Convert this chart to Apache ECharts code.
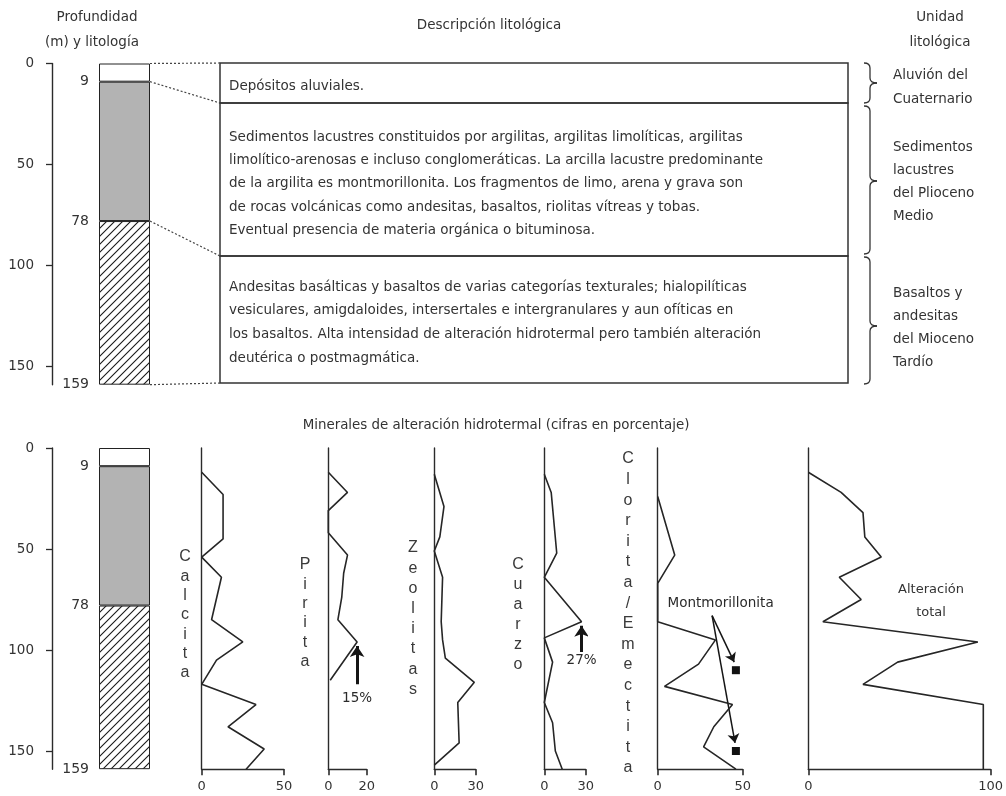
<!DOCTYPE html>
<html lang="es">
<head>
<meta charset="utf-8">
<title>Perfil litológico y minerales de alteración hidrotermal</title>
<script src="https://cdn.jsdelivr.net/npm/echarts@6/dist/echarts.min.js"></script>
<style>
html, body { margin: 0; padding: 0; background: #fff; }
#chart { width: 1006px; height: 796px; }
</style>
</head>
<body>
<div id="chart"></div>
<script>
// ---------- Data ----------
const depthMax = 159;
const depthTicks = [0, 50, 100, 150];
const layerBoundaries = [9, 78, 159];
const layerThickness = [9, 69, 81];

// Mineral profiles: [porcentaje, profundidad (m)]
const calcita = [[0, 12], [13, 23], [13, 45], [0, 54], [12, 64], [6, 85], [25, 96], [9, 105], [0, 117], [33, 127], [16, 138], [38, 149], [27, 159]];
const piritaPeak = 15;
const pirita = [[0, 12], [10, 22], [0, 31], [0, 42], [10, 53], [8, 62], [7, 74], [5, 85], [piritaPeak, 96], [1, 115]];
const zeolitas = [[0, 13], [7, 29], [4, 44], [0, 51], [6, 64], [5, 86], [6, 95], [8, 104], [29, 116], [17, 126], [18, 146], [0, 157]];
const cuarzoPeak = 27;
const cuarzo = [[0, 13], [5, 22], [9, 52], [0, 64], [cuarzoPeak, 86], [0, 94], [6, 106], [0, 126], [6, 136], [8, 150], [13, 159]];
const clorita = [[0, 24], [10, 53], [0, 67], [0, 86], [34, 95], [24, 107], [4, 118], [44, 127], [33, 138], [27, 148], [46, 159]];
const montmorillonita = [[46, 110], [46, 150]];
const alteracionTotal = [[0, 12], [18, 22], [30, 32], [31, 44], [40, 54], [17, 64], [29, 75], [8, 86], [93, 96], [49, 106], [30, 117], [96, 127], [96, 159]];
const mineralMax = [50, 20, 30, 30, 50, 100];

// Annotation anchors (data coordinates of each panel)
const piritaArrow = [[piritaPeak, 117], [piritaPeak, 98]];
const piritaLabel = [[piritaPeak, 124]];
const cuarzoArrow = [[cuarzoPeak, 101], [cuarzoPeak, 88]];
const cuarzoLabel = [[cuarzoPeak, 105]];
const montArrows = [[[32, 83], [45, 106]], [[32, 83], [45.5, 146]]];
const montLabel = [[37, 77]];

// Text content
const descripcion = [
  ['Depósitos aluviales.'],
  ['Sedimentos lacustres constituidos por argilitas, argilitas limolíticas, argilitas',
   'limolítico-arenosas e incluso conglomeráticas. La arcilla lacustre predominante',
   'de la argilita es montmorillonita. Los fragmentos de limo, arena y grava son',
   'de rocas volcánicas como andesitas, basaltos, riolitas vítreas y tobas.',
   'Eventual presencia de materia orgánica o bituminosa.'],
  ['Andesitas basálticas y basaltos de varias categorías texturales; hialopilíticas',
   'vesiculares, amigdaloides, intersertales e intergranulares y aun ofíticas en',
   'los basaltos. Alta intensidad de alteración hidrotermal pero también alteración',
   'deutérica o postmagmática.']
];
const unidades = [
  ['Aluvión del', 'Cuaternario'],
  ['Sedimentos', 'lacustres', 'del Plioceno', 'Medio'],
  ['Basaltos y', 'andesitas', 'del Mioceno', 'Tardío']
];
const mineralNames = ['Calcita', 'Pirita', 'Zeolitas', 'Cuarzo', 'Clorita/Emectita'];

// ---------- Layout & style ----------
const FONT = 'DejaVu Sans';
const INK = '#2b2b2b';
const TXT = '#333';
const colLeft = 99, colWidth = 51;
const pxPerM = 2.02;
const topY0 = 63.5, botY0 = 448;
const boxLeft = 220, boxRight = 848;
const boxRows = [63, 103, 256, 383];

const panelLayout = [
  { left: 201.7, width: 82.2 },
  { left: 328.3, width: 38.4 },
  { left: 434.3, width: 41.4 },
  { left: 544.3, width: 41.4 },
  { left: 657.7, width: 85 },
  { left: 808.3, width: 189 }
];
const panelData = [calcita, pirita, zeolitas, cuarzo, clorita, alteracionTotal];
const letterLayout = [
  { x: 185, y: 557, step: 19.3 },
  { x: 305, y: 565, step: 19.3 },
  { x: 413, y: 548, step: 20.2 },
  { x: 518, y: 565, step: 20 },
  { x: 628, y: 459, step: 20.6 }
];

function hatchPattern() {
  const c = document.createElement('canvas');
  c.width = 8; c.height = 8;
  const g = c.getContext('2d');
  g.fillStyle = '#fff';
  g.fillRect(0, 0, 8, 8);
  g.strokeStyle = '#1a1a1a';
  g.lineWidth = 1.1;
  g.beginPath();
  g.moveTo(0, 8); g.lineTo(8, 0);
  g.moveTo(-2, 2); g.lineTo(2, -2);
  g.moveTo(6, 10); g.lineTo(10, 6);
  g.stroke();
  return c;
}
const layerFills = ['#ffffff', '#b3b3b3', { image: hatchPattern(), repeat: 'repeat' }];

const grid = [], xAxis = [], yAxis = [], series = [];

// Lithology columns (top and bottom)
[topY0, botY0].forEach((y0, k) => {
  grid.push({ left: colLeft, top: y0, width: colWidth, height: depthMax * pxPerM });
  xAxis.push({ type: 'category', gridIndex: k, data: ['col'], show: false });
  const depthIdx = yAxis.length;
  yAxis.push({
    type: 'value', gridIndex: k, inverse: true, min: 0, max: depthMax,
    position: 'left', offset: colLeft - 52,
    axisLine: { show: true, onZero: false, lineStyle: { color: INK, width: 1.4 } },
    axisTick: { show: true, length: 6, customValues: depthTicks, lineStyle: { color: INK, width: 1.3 } },
    axisLabel: { show: true, customValues: depthTicks, margin: 18, fontSize: 13.5, color: TXT, fontFamily: FONT },
    splitLine: { show: false }
  });
  yAxis.push({
    type: 'value', gridIndex: k, inverse: true, min: 0, max: depthMax,
    position: 'left', offset: 0,
    axisLine: { show: false }, axisTick: { show: false },
    axisLabel: { show: true, customValues: layerBoundaries, margin: 10, fontSize: 14, color: TXT, fontFamily: FONT },
    splitLine: { show: false }
  });
  layerThickness.forEach((t, i) => {
    series.push({
      type: 'bar', xAxisIndex: k, yAxisIndex: depthIdx, stack: 'col' + k,
      data: [t], barWidth: '100%', silent: true,
      itemStyle: { color: layerFills[i], borderColor: '#222', borderWidth: 1 }
    });
  });
});

// Mineral panels
panelLayout.forEach((p, i) => {
  const gi = grid.length;
  grid.push({ left: p.left, top: botY0, width: p.width, height: depthMax * pxPerM });
  xAxis.push({
    type: 'value', gridIndex: gi, min: 0, max: mineralMax[i], interval: mineralMax[i],
    position: 'bottom',
    axisLine: { show: true, onZero: false, lineStyle: { color: INK, width: 1.4 } },
    axisTick: { show: true, length: 6, lineStyle: { color: INK, width: 1.6 } },
    axisLabel: { fontSize: 13, margin: 11, color: TXT, fontFamily: FONT },
    splitLine: { show: false }
  });
  const yi = yAxis.length;
  yAxis.push({
    type: 'value', gridIndex: gi, inverse: true, min: 0, max: depthMax,
    axisLine: { show: true, onZero: false, lineStyle: { color: INK, width: 1.4 } },
    axisTick: { show: false }, axisLabel: { show: false }, splitLine: { show: false }
  });
  p.xi = xAxis.length - 1; p.yi = yi;
  series.push({
    type: 'line', xAxisIndex: p.xi, yAxisIndex: yi, data: panelData[i],
    symbol: 'none', silent: true, clip: false,
    lineStyle: { color: '#262626', width: 1.6 }
  });
});

function arrowSeries(p, segs, width, size) {
  return {
    type: 'lines', coordinateSystem: 'cartesian2d', xAxisIndex: p.xi, yAxisIndex: p.yi,
    symbol: ['none', 'arrow'], symbolSize: size, silent: true,
    lineStyle: { color: '#151515', width: width, opacity: 1, curveness: 0 },
    data: segs.map(s => ({ coords: s }))
  };
}
function valueLabel(p, pts, fmt) {
  return {
    type: 'scatter', xAxisIndex: p.xi, yAxisIndex: p.yi, data: pts,
    symbolSize: 0, silent: true, itemStyle: { opacity: 1 },
    label: { show: true, position: 'inside', formatter: fmt, fontSize: 13.5, color: '#2a2a2a', fontFamily: FONT }
  };
}
const P = panelLayout;
series.push(arrowSeries(P[1], [piritaArrow], 3, 11));
series.push(valueLabel(P[1], piritaLabel, q => q.value[0] + '%'));
series.push(arrowSeries(P[3], [cuarzoArrow], 3, 11));
series.push(valueLabel(P[3], cuarzoLabel, q => q.value[0] + '%'));
series.push(arrowSeries(P[4], montArrows, 1.5, 9));
series.push(valueLabel(P[4], montLabel, () => 'Montmorillonita'));
series.push({
  type: 'scatter', xAxisIndex: P[4].xi, yAxisIndex: P[4].yi, data: montmorillonita,
  symbol: 'rect', symbolSize: 8, silent: true, itemStyle: { color: '#111', opacity: 1 }
});

const chart = echarts.init(document.getElementById('chart'), null, { renderer: 'canvas' });
chart.setOption({
  animation: false,
  backgroundColor: '#fff',
  textStyle: { fontFamily: FONT },
  grid, xAxis, yAxis, series
});

// ---------- Annotations: headers, description box, units, braces ----------
function txt(x, y, text, opt) {
  opt = opt || {};
  return {
    type: 'text', x: x, y: y, silent: true,
    style: {
      text: text, fill: opt.fill || TXT,
      fontSize: opt.size || 13, fontFamily: opt.family || FONT,
      lineHeight: opt.lh, textAlign: opt.align || 'left',
      textVerticalAlign: opt.valign || 'middle'
    }
  };
}
function brace(x, y1, y2, ym) {
  const w = 6, pt = 7, r = 5;
  const s = { stroke: '#333', lineWidth: 1.3, fill: null };
  return [
    { type: 'bezierCurve', shape: { x1: x - w, y1: y1, cpx1: x, cpy1: y1, x2: x, y2: y1 + r }, style: s },
    { type: 'line', shape: { x1: x, y1: y1 + r, x2: x, y2: ym - r }, style: s },
    { type: 'bezierCurve', shape: { x1: x, y1: ym - r, cpx1: x, cpy1: ym, x2: x + pt, y2: ym }, style: s },
    { type: 'bezierCurve', shape: { x1: x + pt, y1: ym, cpx1: x, cpy1: ym, x2: x, y2: ym + r }, style: s },
    { type: 'line', shape: { x1: x, y1: ym + r, x2: x, y2: y2 - r }, style: s },
    { type: 'bezierCurve', shape: { x1: x, y1: y2 - r, cpx1: x, cpy1: y2, x2: x - w, y2: y2 }, style: s }
  ];
}

const g = [];
g.push(txt(97, 17, 'Profundidad', { align: 'center', size: 13.5 }));
g.push(txt(92, 42, '(m) y litología', { align: 'center', size: 13.5 }));
g.push(txt(489, 25, 'Descripción litológica', { align: 'center', size: 13.5 }));
g.push(txt(940, 17, 'Unidad', { align: 'center', size: 13.5 }));
g.push(txt(940, 42, 'litológica', { align: 'center', size: 13.5 }));
g.push(txt(496, 426, 'Minerales de alteración hidrotermal (cifras en porcentaje)', { align: 'center', size: 13.4 }));

// Description box rows
for (let i = 0; i < 3; i++) {
  g.push({
    type: 'rect', silent: true,
    shape: { x: boxLeft, y: boxRows[i], width: boxRight - boxLeft, height: boxRows[i + 1] - boxRows[i] },
    style: { fill: null, stroke: '#333', lineWidth: 1.5 }
  });
}
g.push(txt(229, 86, descripcion[0].join('\n'), { size: 13.5 }));
g.push(txt(229, 137 - 11.7, descripcion[1].join('\n'), { size: 13.5, lh: 23.4, valign: 'top' }));
g.push(txt(229, 287 - 11.9, descripcion[2].join('\n'), { size: 13.5, lh: 23.8, valign: 'top' }));

// Units and braces
g.push(txt(893, 75 - 12, unidades[0].join('\n'), { size: 13.5, lh: 24, valign: 'top' }));
g.push(txt(893, 147 - 11.5, unidades[1].join('\n'), { size: 13.5, lh: 23, valign: 'top' }));
g.push(txt(893, 293 - 11.5, unidades[2].join('\n'), { size: 13.5, lh: 23, valign: 'top' }));
g.push(...brace(870, 63, 103, 83));
g.push(...brace(870, 106, 254, 181));
g.push(...brace(870, 257, 384, 326));

// Vertical mineral names
mineralNames.forEach((name, i) => {
  const L = letterLayout[i];
  g.push(txt(L.x, L.y - L.step / 2, name.split('').join('\n'),
    { size: 16, family: 'Liberation Sans', fill: '#3a3a3a', lh: L.step, align: 'center', valign: 'top' }));
});
g.push(txt(931, 590 - 11.5, 'Alteración\ntotal', { size: 13, lh: 23, align: 'center', valign: 'top' }));

// Dotted connectors from layer boundaries to description rows
const colRight = colLeft + colWidth;
[0].concat(layerBoundaries).forEach((d, i) => {
  const y = chart.convertToPixel({ yAxisIndex: 0 }, d);
  g.push({
    type: 'line', silent: true,
    shape: { x1: colRight, y1: y, x2: boxLeft, y2: boxRows[i] },
    style: { stroke: '#444', lineWidth: 1.2, lineDash: [2, 2] }
  });
});

chart.setOption({ graphic: { elements: g } });
</script>
</body>
</html>
